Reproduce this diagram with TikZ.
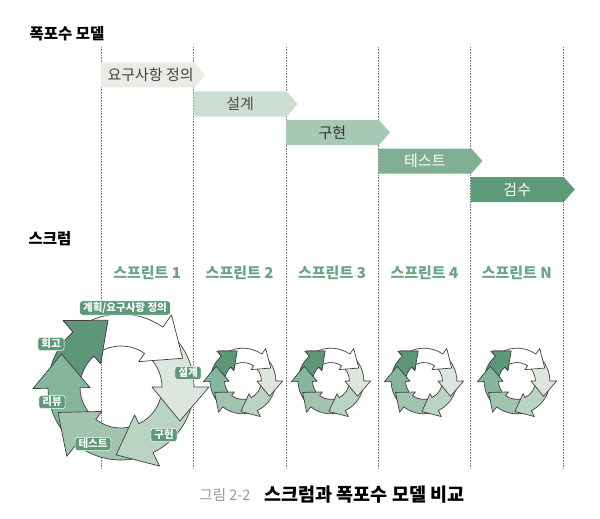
\documentclass[tikz,border=0pt]{standalone}
\usepackage{fontspec}
\setmainfont{Noto Sans CJK KR}
\usetikzlibrary{shapes.symbols,positioning}

\definecolor{barA}{HTML}{EBEBE6}
\definecolor{barB}{HTML}{CCDDD2}
\definecolor{barC}{HTML}{A6C8B4}
\definecolor{barD}{HTML}{80AF94}
\definecolor{barE}{HTML}{5E9A7A}
\definecolor{cycB}{HTML}{DCE5DE}
\definecolor{cycC}{HTML}{BAD4C3}
\definecolor{cycD}{HTML}{A0C4AE}
\definecolor{cycE}{HTML}{85B59A}
\definecolor{cycF}{HTML}{5C9878}
\definecolor{taggreen}{HTML}{5D9A79}
\definecolor{sprintgreen}{HTML}{6AA385}

\tikzset{
  wfbar/.style={signal, signal to=east, signal pointer angle=97,
    minimum width=104pt, minimum height=25pt, inner sep=0pt, anchor=west,
    font=\fontsize{15}{17}\selectfont},
  colline/.style={black!50, dash pattern=on 0.8pt off 0.8pt, line width=0.6pt},
  cyc/.style={draw=black!75, line width=0.7pt, line join=round},
  steptag/.style={fill=taggreen, draw=white, line width=0.5pt, rounded corners=3pt,
    text=white, inner xsep=3.5pt, inner ysep=1.8pt, font=\fontsize{10.5}{11}\selectfont\bfseries},
  sprint/.style={text=sprintgreen, font=\fontsize{15}{17}\selectfont\bfseries},
  heading/.style={anchor=west, font=\fontsize{15.5}{17}\selectfont\bfseries},
}

\begin{document}
\begin{tikzpicture}[x=1pt, y=1pt]

\newcommand\X{92.4}
\newcommand\XO{101}

\newcommand\RO{73}
\newcommand\RI{41}
\newcommand\HO{88}
\newcommand\HI{31}
\newcommand\RT{68}

% one curved arrow of a cycle: start angle, base of head, fill
\newcommand\cycseg[3]{%
  \filldraw[cyc, fill=#3] (#1:\RO) arc[start angle=#1, end angle=#2, radius=\RO]
    -- (#2:\HO) -- ({#2-30}:\RT) -- (#2:\HI) -- (#2:\RI)
    arc[start angle=#2, end angle=#1, radius=\RI] -- cycle;}

\newcommand\scrumcycle[2]{%
  \begin{scope}[shift={#1}, scale=#2]
    \cycseg{181}{131}{cycF}
    \cycseg{-128}{-179}{cycE}
    \cycseg{-64}{-128}{cycD}
    \cycseg{0}{-64}{cycC}
    \cycseg{55}{0}{cycB}
    \cycseg{131}{55}{white}
    % head of the first one again, over the white tail
    \filldraw[cyc, fill=cycF] (134:\RO) arc[start angle=134, end angle=131, radius=\RO]
      -- (131:\HO) -- (101:\RT) -- (131:\HI) -- (131:\RI)
      arc[start angle=131, end angle=134, radius=\RI];
  \end{scope}}

\useasboundingbox[fill=white] (0,0) rectangle (600,-519);

\node[heading] (wftitle) at (26,-34) {폭포수 모델};
\node[heading] (scrumtitle) at (25,-239) {스크럼};

%% column lines
\draw[colline] (\XO+0*\X, -47) -- (\XO+0*\X, -468);
\draw[colline] (\XO+1*\X, -47) -- (\XO+1*\X, -468);
\draw[colline] (\XO+2*\X, -47) -- (\XO+2*\X, -468);
\draw[colline] (\XO+3*\X, -47) -- (\XO+3*\X, -468);
\draw[colline] (\XO+4*\X, -47) -- (\XO+4*\X, -468);
\draw[colline] (\XO+5*\X, -47) -- (\XO+5*\X, -468);

%% waterfall
\node[wfbar, fill=barA, text=black!75] (req)  at (\XO+0*\X, -75)  {\hspace*{6pt}요구사항 정의};
\node[wfbar, fill=barB, text=black!70] (des)  at (\XO+1*\X, -104) {설계};
\node[wfbar, fill=barC, text=black!80] (impl) at (\XO+2*\X, -132.5) {구현};
\node[wfbar, fill=barD, text=white]    (test) at (\XO+3*\X, -161) {테스트};
\node[wfbar, fill=barE, text=white]    (acc)  at (\XO+4*\X, -189.5) {검수};

%% sprints
\node[sprint] (sp1) at (\XO+0.5*\X, -273) {스프린트 1};
\node[sprint] (sp2) at (\XO+1.5*\X, -273) {스프린트 2};
\node[sprint] (sp3) at (\XO+2.5*\X, -273) {스프린트 3};
\node[sprint] (sp4) at (\XO+3.5*\X, -273) {스프린트 4};
\node[sprint] (spN) at (\XO+4.5*\X, -273) {스프린트 N};

\scrumcycle{(243,-381)}{0.45}
\scrumcycle{(331,-381)}{0.45}
\scrumcycle{(424,-381)}{0.45}
\scrumcycle{(517,-381)}{0.45}

\scrumcycle{(121,-387)}{1}

\node[steptag] (plan)   at (125,-308) {계획/요구사항 정의};
\node[steptag] (retro)  at (51,-344)  {회고};
\node[steptag] (design) at (188,-373) {설계};
\node[steptag] (review) at (52,-402)  {리뷰};
\node[steptag] (qa)     at (93,-444)  {테스트};
\node[steptag] (build)  at (164,-435) {구현};

%% caption
\node[text=black!40, font=\fontsize{14.5}{16}\selectfont] (fignum) at (225,-495) {그림 2-2};
\node[right=7pt of fignum, font=\fontsize{18.5}{20}\selectfont\bfseries] (figtitle) {스크럼과 폭포수 모델 비교};

\end{tikzpicture}
\end{document}
